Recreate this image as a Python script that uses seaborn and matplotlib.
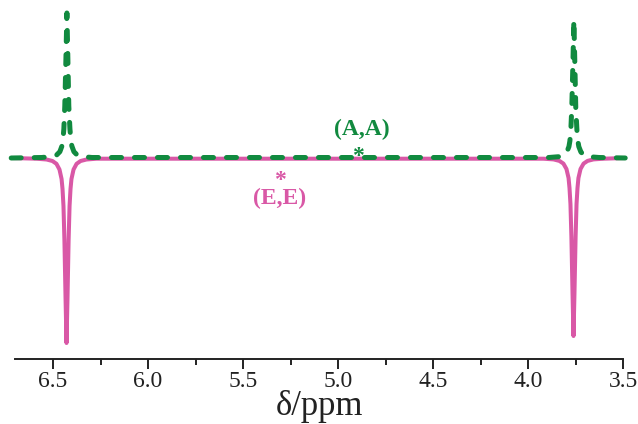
import matplotlib
matplotlib.use("Agg")
import matplotlib.pyplot as plt
from matplotlib.ticker import MultipleLocator
import seaborn as sns
import pandas as pd

# (E,E) trace: chemical shift (ppm) and intensity, two inverted peaks
ee_ppm = [6.72, 6.587, 6.534, 6.503, 6.482, 6.466, 6.455, 6.450, 6.445, 6.440,
          6.434, 6.429, 6.424, 6.418, 6.413, 6.408, 6.403, 6.392, 6.376, 6.355,
          6.324, 6.271,
          3.920, 3.867, 3.836, 3.815, 3.799, 3.788, 3.783, 3.778, 3.773, 3.767,
          3.762, 3.757, 3.751, 3.746, 3.741, 3.736, 3.725, 3.709, 3.688, 3.657,
          3.604, 3.49]
ee_int = [0, -0.7, -1.5, -3, -5.8, -11.5, -21, -31, -48, -82,
          -141, -185, -141, -82, -48, -31, -21, -11.5, -5.8, -3,
          -1.5, -0.7,
          -0.7, -1.4, -2.9, -5.6, -11, -20, -30, -46, -79, -136,
          -178, -136, -79, -46, -30, -20, -11, -5.6, -2.9, -1.4,
          -0.7, 0]

# (A,A) trace: chemical shift (ppm) and intensity, two upright peaks
aa_ppm = [6.72, 6.559, 6.506, 6.480, 6.464, 6.453, 6.448, 6.443, 6.438, 6.432,
          6.427, 6.422, 6.417, 6.411, 6.406, 6.401, 6.390, 6.374, 6.348, 6.295,
          3.892, 3.839, 3.813, 3.797, 3.786, 3.781, 3.776, 3.771, 3.765, 3.760,
          3.755, 3.750, 3.744, 3.739, 3.734, 3.723, 3.707, 3.681, 3.628, 3.49]
aa_int = [0, 0.5, 1.4, 3.2, 6.3, 12, 18, 29, 52, 100,
          145, 100, 52, 29, 18, 12, 6.3, 3.2, 1.4, 0.5,
          0.5, 1.3, 3.0, 6.0, 11.4, 17, 28, 50, 95, 138,
          95, 50, 28, 17, 11.4, 6.0, 3.0, 1.3, 0.5, 0]

major_ticks = [6.5, 6.0, 5.5, 5.0, 4.5, 4.0, 3.5]
tick_labels = ["6.5", "6.0", "5.5", "5.0", "4.5", "4.0", "3.5"]

PINK = "#d958a6"
GREEN = "#118a3f"
INK = "#222222"

sns.set_theme(style="white")
plt.rcParams["font.family"] = ["Liberation Serif", "DejaVu Serif"]

fig = plt.figure(figsize=(6.38, 4.24), dpi=100)
ax = fig.add_axes([15 / 638, 65 / 424, 608.3 / 638, 354 / 424])

ee = pd.DataFrame({"ppm": ee_ppm, "intensity": ee_int})
aa = pd.DataFrame({"ppm": aa_ppm, "intensity": aa_int})

sns.lineplot(data=ee, x="ppm", y="intensity", ax=ax, color=PINK, lw=2.9,
             estimator=None, sort=False, solid_capstyle="round",
             solid_joinstyle="round", clip_on=False)
sns.lineplot(data=aa, x="ppm", y="intensity", ax=ax, color=GREEN, lw=3.6,
             estimator=None, sort=False, linestyle=(0, (2.0, 2.6)),
             dash_capstyle="round", dash_joinstyle="round", clip_on=False)

ax.set_xlim(6.70, 3.50)
ax.set_ylim(-201, 153)

for side in ("left", "right", "top"):
    ax.spines[side].set_visible(False)
ax.spines["bottom"].set_linewidth(1.4)
ax.spines["bottom"].set_color(INK)

ax.set_xticks(major_ticks)
ax.set_xticklabels(tick_labels)
ax.xaxis.set_minor_locator(MultipleLocator(0.25))
ax.tick_params(axis="x", which="major", direction="out", length=7, width=1.4,
               color=INK, labelsize=17, labelcolor=INK, pad=1.5,
               bottom=True)
ax.tick_params(axis="x", which="minor", direction="out", length=4, width=1.4,
               color=INK, bottom=True)
ax.set_yticks([])
ax.set_ylabel("")
ax.set_xlabel("")

# axis title placed on its own baseline below the tick labels
fig.text(319 / 638, 9 / 424, "δ/ppm", fontsize=25, color=INK,
         ha="center", va="baseline")

# peak assignments
ax.text(4.874, 29, "(A,A)", color=GREEN, fontsize=17, fontweight="bold",
        ha="center", va="center")
ax.text(4.895, -4, "*", color=GREEN, fontsize=17, fontweight="bold",
        ha="center", va="baseline")
ax.text(5.308, -31.5, "*\n(E,E)", color=PINK, fontsize=17, fontweight="bold",
        ha="center", va="center", multialignment="center", linespacing=0.86)

fig.savefig("out.png", dpi=100)
